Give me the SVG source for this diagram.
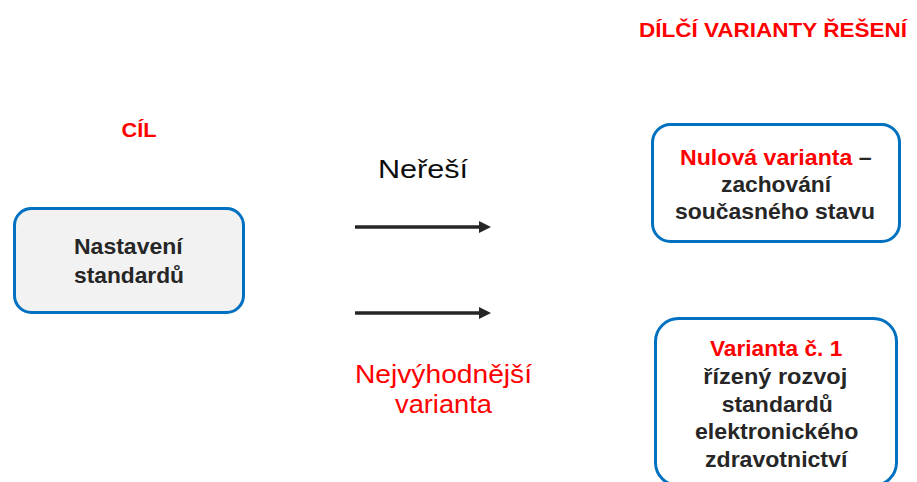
<svg xmlns="http://www.w3.org/2000/svg" width="917" height="482" viewBox="0 0 917 482">
  <defs>
    <marker id="head" viewBox="0 0 12 12" refX="0" refY="6" markerWidth="12" markerHeight="12" markerUnits="userSpaceOnUse" orient="auto">
      <path d="M0,0 L12,6 L0,12 Z" fill="#262626"/>
    </marker>
    <style>
      .box { stroke: #0070C0; stroke-width: 3; }
      .hdr { font-family: "Liberation Sans", Arial, sans-serif; font-weight: bold; font-size: 20px; fill: #FF0000; }
      .lbl { font-family: "Liberation Sans", Arial, sans-serif; font-weight: bold; font-size: 21.5px; fill: #262626; }
      .red { fill: #FF0000; }
      .note { font-family: "Liberation Sans", Arial, sans-serif; font-size: 26.5px; }
      .conn { stroke: #262626; stroke-width: 3.5; fill: none; }
    </style>
  </defs>
  <rect width="917" height="482" fill="#FFFFFF"/>

  <!-- headings -->
  <text class="hdr" x="639" y="37" textLength="268" lengthAdjust="spacingAndGlyphs">DÍLČÍ VARIANTY ŘEŠENÍ</text>
  <text class="hdr" x="121.5" y="137" textLength="35" lengthAdjust="spacingAndGlyphs">CÍL</text>

  <!-- goal -->
  <g id="cil">
    <rect class="box" x="14.5" y="208.5" width="229" height="104" rx="17" fill="#F2F2F2"/>
    <text class="lbl" x="74" y="254" textLength="108.7" lengthAdjust="spacingAndGlyphs">Nastavení</text>
    <text class="lbl" x="74" y="282.7" textLength="110" lengthAdjust="spacingAndGlyphs">standardů</text>
  </g>

  <!-- zero option -->
  <g id="nulova">
    <rect class="box" x="652.5" y="124.5" width="247" height="117" rx="18" fill="#FFFFFF"/>
    <text class="lbl" x="680" y="165" textLength="191.7" lengthAdjust="spacingAndGlyphs"><tspan class="red">Nulová varianta</tspan> –</text>
    <text class="lbl" x="721" y="191.7" textLength="110" lengthAdjust="spacingAndGlyphs">zachování</text>
    <text class="lbl" x="675" y="219" textLength="200" lengthAdjust="spacingAndGlyphs">současného stavu</text>
  </g>

  <!-- option 1 (runs past the lower edge) -->
  <g id="varianta1">
    <rect class="box" x="655.5" y="318.5" width="241" height="167" rx="23" fill="#FFFFFF"/>
    <text class="lbl red" x="710" y="356" textLength="132.3" lengthAdjust="spacingAndGlyphs">Varianta č. 1</text>
    <text class="lbl" x="703.3" y="384" textLength="144" lengthAdjust="spacingAndGlyphs">řízený rozvoj</text>
    <text class="lbl" x="721.7" y="411.7" textLength="111" lengthAdjust="spacingAndGlyphs">standardů</text>
    <text class="lbl" x="695" y="439" textLength="163.3" lengthAdjust="spacingAndGlyphs">elektronického</text>
    <text class="lbl" x="705" y="467" textLength="142.3" lengthAdjust="spacingAndGlyphs">zdravotnictví</text>
  </g>

  <!-- connectors -->
  <g id="connectors">
    <line class="conn" x1="355" y1="227" x2="479" y2="227" marker-end="url(#head)"/>
    <line class="conn" x1="355" y1="313" x2="479" y2="313" marker-end="url(#head)"/>
    <text class="note" x="378" y="178.3" fill="#0D0D0D" textLength="90" lengthAdjust="spacingAndGlyphs">Neřeší</text>
    <text class="note" x="355" y="383.3" fill="#FF0000" textLength="177" lengthAdjust="spacingAndGlyphs">Nejvýhodnější</text>
    <text class="note" x="395" y="413.3" fill="#FF0000" textLength="97" lengthAdjust="spacingAndGlyphs">varianta</text>
  </g>
</svg>
